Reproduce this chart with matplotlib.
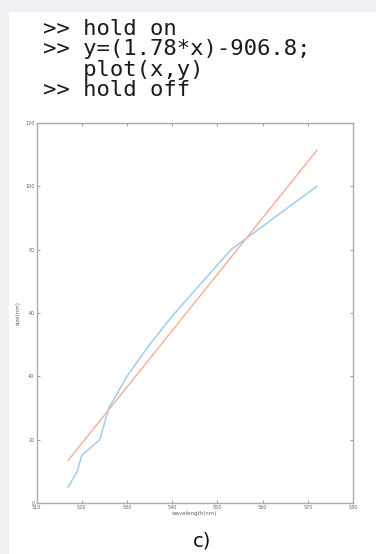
import matplotlib.pyplot as plt
from matplotlib.patches import Rectangle

# measured data (blue) and the fitted line (orange)
wavelength = [517, 519, 520, 524, 525, 526, 528, 530, 535, 540, 553, 572]
size = [5, 10, 15, 20, 25, 30, 35, 40, 50, 59, 80, 100]

fit_x = [517, 572]
slope = 1.78
intercept = -906.8
fit_y = [slope * v + intercept for v in fit_x]

x_ticks = [510, 520, 530, 540, 550, 560, 570, 580]
y_ticks = [0, 20, 40, 60, 80, 100, 120]

code_lines = [">> hold on", ">> y=(1.78*x)-906.8;", "   plot(x,y)", ">> hold off"]

W, H = 376, 554
fig = plt.figure(figsize=(W / 100, H / 100), dpi=100)
fig.patch.set_facecolor("#eef0f3")

# white panel behind everything
fig.patches.append(Rectangle((9 / W, 0), 1, 1 - 12 / H, transform=fig.transFigure,
                             facecolor="white", edgecolor="none", zorder=-10))

# the matlab commands as one block of text
fig.text(43 / W, 1 - 19 / H, "\n".join(code_lines), family="DejaVu Sans Mono",
         fontsize=16, linespacing=1.03, va="top", ha="left", color="#1a1a1a")

ax = fig.add_axes([36.5 / W, 1 - 503 / H, (353 - 36.5) / W, (503 - 123) / H])
ax.set_facecolor("white")
ax.plot(wavelength, size, color="#9fcdee", lw=1.1)
ax.plot(fit_x, fit_y, color="#f5b49c", lw=1.1)

ax.set_xlim(510, 580)
ax.set_ylim(0, 120)
ax.set_xticks(x_ticks)
ax.set_yticks(y_ticks)
ax.tick_params(direction="in", length=2, width=0.6, colors="#888888",
               labelsize=3.5, labelcolor="#666666", top=True, right=True, pad=1.5)
for s in ax.spines.values():
    s.set_color("#aaaaaa")
    s.set_linewidth(1.0)
ax.set_xlabel("wavelength(nm)", fontsize=4, color="#666666", labelpad=1)
ax.set_ylabel("size(nm)", fontsize=4, color="#666666", labelpad=3)

fig.text(202 / W, 1 - 541 / H, "c)", fontsize=14, ha="center", va="center", color="#111111")

fig.savefig("out.png", dpi=100)
